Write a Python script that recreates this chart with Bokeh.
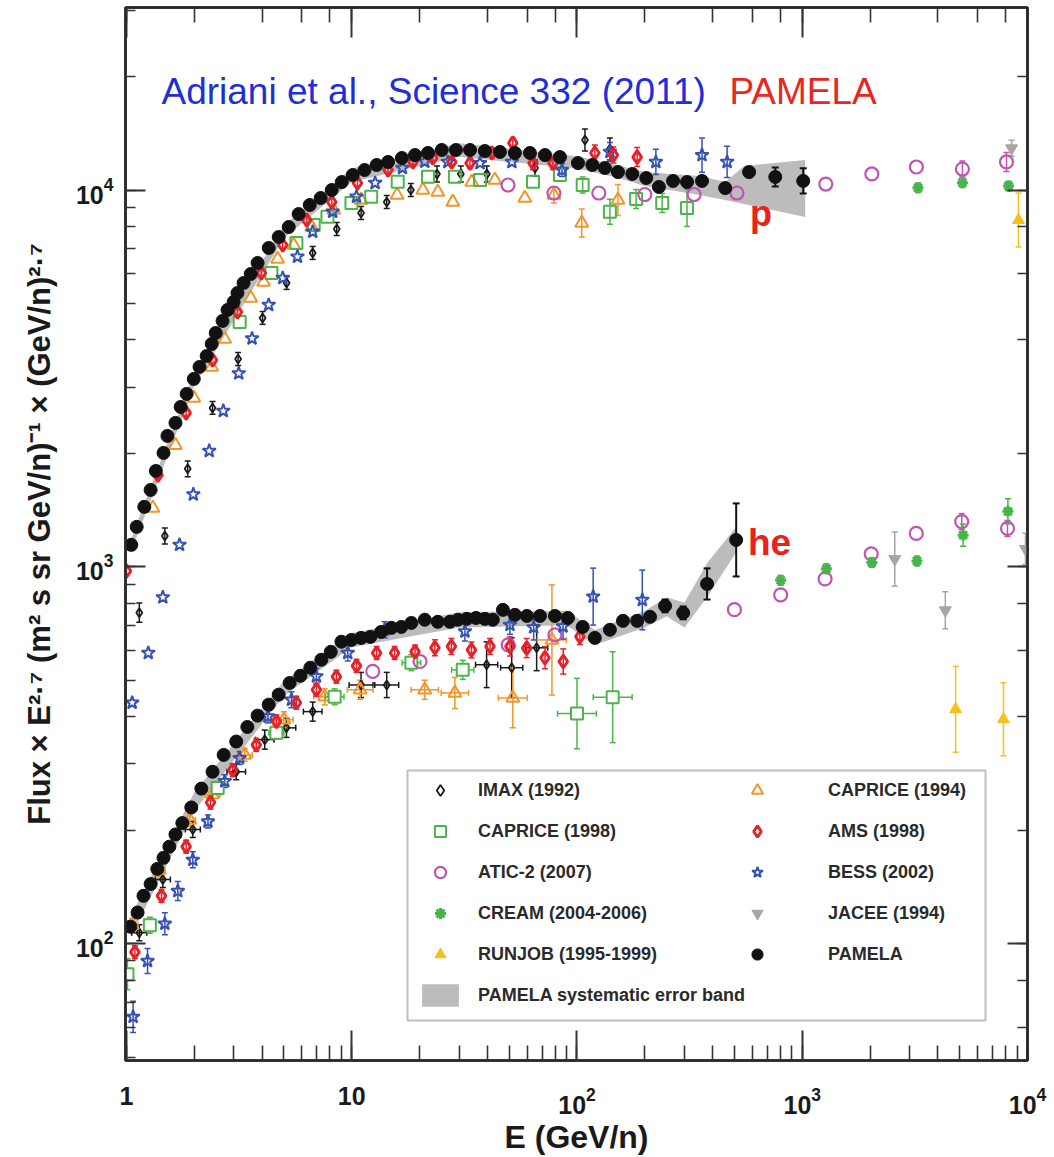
import math
from bokeh.plotting import figure
from bokeh.models import (ColumnDataSource, Whisker, TeeHead, Legend, LegendItem,
                          Label, BoxAnnotation, LogAxis)
from bokeh.embed import file_html
from bokeh.resources import INLINE

FONT = "Liberation Sans"

# ---------------- PROTONS ----------------
pam_p_E = [1.05, 1.11, 1.20, 1.28, 1.35, 1.46, 1.52, 1.65, 1.74, 1.85,
           1.99, 2.11, 2.27, 2.39, 2.49, 2.67, 2.81, 2.99, 3.11, 3.31,
           3.56, 3.82, 4.28, 4.74, 5.25, 5.81, 6.51, 7.28, 8.15, 9.03,
           10.1, 11.4, 12.9, 14.5, 16.7, 19.1, 21.8, 25.1, 29.0, 33.5,
           39.0, 45.5, 53.0, 61.8, 72.1, 84.0, 101, 117, 133, 152,
           176, 203, 231, 267, 308, 359, 455, 581, 759, 1010]
pam_p_F = [1144, 1277, 1443, 1600, 1797, 2006, 2226, 2410, 2657, 2877,
           3153, 3393, 3628, 3904, 4176, 4494, 4805, 5046, 5330, 5666,
           5987, 6403, 7018, 7504, 7978, 8635, 9125, 9524, 10000, 10500,
           10960, 11300, 11650, 11870, 12160, 12380, 12540, 12770, 12770, 12770,
           12690, 12620, 12540, 12540, 12380, 12230, 11790, 11650, 11440, 11160,
           11030, 10760, 10190, 10570, 10500, 10570, 10120, 11160, 10830, 10570]
pam_p_err = [0] * 52 + [0.015, 0.015, 0.02, 0.02, 0.025, 0.03, 0.06, 0.08]

band_p_E = [1.05, 2.0, 5.0, 10.0, 30.0, 100, 150, 200, 350, 455, 552, 1030]
band_p_lo = [1100, 3030, 7450, 10500, 12250, 11400, 10800, 10250, 9700, 9410, 9180, 8480]
band_p_hi = [1190, 3290, 8050, 11400, 13300, 12300, 11650, 11160, 10890, 10500, 11580, 12010]

imax_p_E = [1.14, 1.48, 1.87, 2.41, 3.13, 4.02, 5.14, 6.71, 8.58, 11.0, 14.3, 18.3,
            23.9, 30.5, 39.8, 65.1, 108.5, 140]
imax_p_F = [756, 1208, 1820, 2641, 3562, 4577, 5666, 6806, 7881, 8690, 9293, 10000,
            11030, 11030, 11030, 11440, 13570, 12850]
imax_p_err = [0.06, 0.05, 0.05, 0.04, 0.04, 0.04, 0.04, 0.04, 0.04, 0.04, 0.04, 0.04,
              0.05, 0.05, 0.05, 0.05, 0.07, 0.07]

cap94_p_E = [1.31, 1.65, 1.99, 2.39, 2.73, 3.56, 4.06, 4.69, 5.52, 6.64, 8.32, 11.0,
             15.9, 20.7, 24.1, 28.1, 34.1, 43.2, 58.7, 79.0, 105, 152]
cap94_p_F = [1434, 2101, 2807, 3393, 4025, 5169, 5702, 6561, 7147, 7978, 8851, 9408,
             9699, 10000, 9878, 9293, 10500, 10630, 9524, 9699, 8175, 9408]
cap94_p_err = [0, 0, 0, 0, 0, 0, 0, 0, 0, 0, 0, 0,
               0, 0, 0, 0, 0, 0, 0, 0.05, 0.09, 0.10]

cap98_p_E = [3.18, 4.40, 5.68, 6.78, 7.80, 9.97, 12.2, 16.0, 21.8, 28.7, 37.1, 63.8,
             84.0, 106, 140, 183, 239, 308]
cap98_p_F = [4466, 6023, 7235, 8076, 8495, 9237, 9600, 10520, 10850, 10850, 10630, 10520,
             10960, 10310, 8757, 9464, 9237, 8960]
cap98_p_err = [0, 0, 0, 0, 0, 0, 0, 0, 0, 0, 0, 0,
               0, 0.05, 0.08, 0.06, 0.06, 0.12]

atic_p_E = [49.4, 79.0, 125, 200, 331, 513, 1272, 2037, 3212, 5141, 8068]
atic_p_F = [10310, 9818, 9818, 9729, 9729, 9818, 10370, 11030, 11510, 11370, 11870]
atic_p_err = [0, 0, 0, 0, 0, 0, 0, 0, 0, 0.05, 0.06]

ams_p_E = [1.0, 1.38, 1.84, 2.41, 3.11, 3.97, 4.94, 6.31, 8.15, 10.6, 14.5, 18.7, 22.9,
           27.8, 33.5, 41.9, 51.9, 63.8, 78.2, 120, 145, 185]
ams_p_F = [975, 1750, 2562, 3540, 4746, 6023, 7147, 8326, 9293, 10440, 11300, 11870, 12160,
           11870, 11790, 12540, 13330, 11790, 11790, 12540, 12380, 12230]
ams_p_err = [0.02, 0.02, 0.02, 0.02, 0.02, 0.02, 0.02, 0.02, 0.02, 0.02, 0.02, 0.02, 0.02,
             0.02, 0.03, 0.03, 0.03, 0.04, 0.04, 0.05, 0.05, 0.06]

bess_p_E = [1.06, 1.25, 1.45, 1.72, 1.98, 2.33, 2.69, 3.15, 3.61, 4.28, 4.94, 5.74, 6.71,
            8.23, 10.5, 12.7, 16.8, 21.1, 26.7, 37.1, 51.4, 85.8, 140, 224, 359, 464]
bess_p_F = [436, 591, 830, 1144, 1557, 2031, 2593, 3262, 4037, 4955, 5843, 6654, 7752,
            8757, 9600, 10440, 11440, 11890, 11870, 11790, 11870, 11300, 12620, 11870, 12380, 11870]
bess_p_err = [0, 0, 0, 0, 0, 0, 0, 0, 0, 0, 0, 0, 0,
              0, 0, 0, 0, 0, 0, 0, 0, 0.04, 0.06, 0.08, 0.11, 0.10]

cream_p_E = [3265, 5141, 8234]
cream_p_F = [10140, 10460, 10250]
cream_p_err = [0.03, 0.03, 0.03]

jacee_p_E = [8500]
jacee_p_F = [12900]
jacee_p_err = [0.05]

runjob_p_E = [9120]
runjob_p_F = [8326]
runjob_p_err = [0.18]

# ---------------- HELIUM ----------------
pam_he_E = [1.04, 1.12, 1.19, 1.28, 1.37, 1.46, 1.55, 1.65, 1.77, 1.94,
            2.15, 2.41, 2.70, 3.07, 3.44, 3.82, 4.28, 4.74, 5.30, 5.92,
            6.55, 7.33, 8.07, 9.00, 9.97, 11.0, 12.1, 13.5, 15.0, 16.6,
            18.4, 21.1, 24.1, 27.3, 29.6, 32.4, 35.6, 39.0, 42.3, 46.9,
            53.0, 59.9, 68.5, 79.8, 91.2, 106, 120, 140, 160, 185,
            211, 246, 296, 378, 509]
pam_he_F = [111, 121, 134, 144, 158, 169, 181, 195, 209, 230,
            258, 286, 317, 344, 376, 403, 431, 458, 492, 514,
            540, 567, 595, 633, 640, 648, 652, 672, 689, 693,
            710, 724, 715, 715, 724, 728, 732, 728, 724, 769,
            746, 741, 741, 741, 732, 693, 648, 681, 719, 719,
            737, 788, 755, 901, 1179]
pam_he_err = [0] * 45 + [0.015, 0.015, 0.015, 0.015, 0.02, 0.03, 0.04, 0.04, 0.10, 0.25]

band_he_E = [1.04, 2.0, 5.0, 10.0, 30.0, 90.0, 120, 200, 250, 300, 380, 510]
band_he_lo = [104, 225, 455, 612, 690, 700, 620, 690, 740, 690, 834, 1096]
band_he_hi = [118, 252, 498, 668, 758, 765, 680, 765, 830, 805, 1027, 1277]

imax_he_E = [1.14, 1.45, 1.97, 3.07, 4.11, 5.13, 6.71, 11.0, 14.3, 39.7, 51.3, 66.2]
imax_he_F = [107, 148, 201, 286, 348, 374, 413, 486, 486, 550, 540, 610]
imax_he_err = [0.05, 0.05, 0.05, 0.05, 0.06, 0.06, 0.06, 0.08, 0.08, 0.15, 0.2, 0.15]
imax_he_xf = [1.08, 1.08, 1.08, 1.10, 1.10, 1.10, 1.10, 1.13, 1.13, 1.12, 1.12, 1.12]

cap94_he_E = [1.06, 1.40, 1.91, 2.41, 3.35, 5.0, 7.59, 10.9, 21.1, 28.7, 51.9, 77.4]
cap94_he_F = [112, 157, 213, 249, 317, 393, 452, 472, 472, 463, 449, 640]
cap94_he_err = [0.04, 0.04, 0.04, 0.04, 0.04, 0.05, 0.05, 0.06, 0.06, 0.10, 0.20, 0.40]
cap94_he_xf = [1.06, 1.06, 1.06, 1.08, 1.08, 1.10, 1.12, 1.14, 1.15, 1.15, 1.16, 1.16]

cap98_he_E = [1.01, 1.27, 2.54, 4.63, 8.40, 18.4, 31.1, 100, 144]
cap98_he_F = [83, 112, 259, 363, 452, 557, 533, 408, 451]
cap98_he_err = [0.10, 0.05, 0.04, 0.04, 0.05, 0.05, 0.06, 0.24, 0.32]
cap98_he_xf = [1.05, 1.05, 1.06, 1.08, 1.10, 1.10, 1.12, 1.22, 1.22]

ams_he_E = [1.09, 1.43, 1.84, 2.36, 2.96, 3.77, 4.63, 5.68, 6.97, 8.55, 10.5, 12.9,
            15.5, 19.1, 23.4, 27.7, 34.0, 41.1, 50.4, 59.8, 72.1, 86.9, 103]
ams_he_F = [95, 134, 181, 237, 289, 337, 389, 436, 472, 511, 546, 591,
            591, 596, 610, 615, 602, 615, 615, 609, 574, 561, 653]
ams_he_err = [0.04, 0.04, 0.04, 0.04, 0.04, 0.04, 0.04, 0.04, 0.04, 0.04, 0.04, 0.04,
              0.04, 0.04, 0.05, 0.05, 0.05, 0.05, 0.06, 0.06, 0.07, 0.08, 0.05]

atic_he_E = [12.4, 20.1, 49.5, 79.8, 500, 802, 1263, 2024, 3208, 5105, 8150]
atic_he_F = [528, 561, 621, 660, 770, 843, 929, 1083, 1227, 1319, 1265]
atic_he_err = [0, 0, 0, 0, 0, 0, 0, 0, 0, 0.05, 0.05]

bess_he_E = [1.07, 1.24, 1.48, 1.69, 1.97, 2.30, 2.73, 3.18, 4.25, 5.40, 6.97, 9.60,
             14.0, 31.8, 50.4, 64.2, 86.7, 118, 195]
bess_he_F = [64, 90, 113, 138, 167, 211, 270, 311, 401, 444, 512, 591,
             681, 674, 702, 691, 695, 834, 817]
bess_he_err = [0.10, 0.08, 0.07, 0.06, 0.05, 0.04, 0.04, 0.04, 0.04, 0.05, 0.05, 0.05,
               0.05, 0.06, 0.06, 0.08, 0.08, 0.19, 0.20]

cream_he_E = [802, 1280, 2037, 3231, 5177, 8184]
cream_he_F = [921, 989, 1027, 1037, 1214, 1404]
cream_he_err = [0.03, 0.03, 0.03, 0.03, 0.07, 0.08]

jacee_he_E = [2575, 4316, 9797]
jacee_he_F = [1049, 767, 1116]
jacee_he_err = [0.18, 0.12, 0.10]

runjob_he_E = [4797, 7823]
runjob_he_F = [419, 394]
runjob_he_err = [0.30, 0.25]

# ---------------- colours ----------------
C_IMAX = "#1a1a1a"
C_CAP94 = "#f0962a"
C_CAP98 = "#4cb54a"
C_AMS = "#e5222a"
C_ATIC = "#c253b4"
C_BESS = "#3552b3"
C_CREAM = "#45b548"
C_JACEE = "#aaa69f"
C_RUNJOB = "#f5c218"
C_PAM = "#111111"
C_BAND = "#bcbcbc"

# ---------------- figure ----------------
p = figure(x_axis_type="log", y_axis_type="log", x_range=(0.99, 1e4), y_range=(49, 30500),
           frame_width=902, frame_height=1053, min_border_left=125, min_border_right=23,
           min_border_top=7, min_border_bottom=95, output_backend="svg",
           toolbar_location=None, background_fill_color="white", border_fill_color="white")
p.xgrid.visible = False
p.ygrid.visible = False
p.outline_line_color = "#2a2a2a"
p.outline_line_width = 2.5


def style_axis(ax, major_in, minor_in):
    ax.major_tick_in = major_in
    ax.major_tick_out = 0
    ax.minor_tick_in = minor_in
    ax.minor_tick_out = 0
    ax.axis_line_color = "#2a2a2a"
    ax.axis_line_width = 2.5
    ax.major_tick_line_color = "#333333"
    ax.major_tick_line_width = 2
    ax.minor_tick_line_color = "#333333"
    ax.minor_tick_line_width = 1.6
    ax.major_label_text_font = FONT
    ax.major_label_text_font_style = "bold"
    ax.major_label_text_font_size = "25px"
    ax.major_label_text_color = "#1a1a1a"


xa = p.xaxis[0]
style_axis(xa, 30, 15)
xa.major_label_overrides = {1: "1", 10: "10"}
xa.major_label_standoff = 26
xa.axis_label = "E (GeV/n)"
xa.axis_label_text_font = FONT
xa.axis_label_text_font_style = "bold"
xa.axis_label_text_font_size = "32px"
xa.axis_label_text_color = "#1a1a1a"
xa.axis_label_standoff = 2

ya = p.yaxis[0]
style_axis(ya, 20, 10)
ya.major_label_standoff = 12
ya.axis_label = "Flux × E²·⁷ (m² s sr GeV/n)⁻¹ × (GeV/n)²·⁷"
ya.axis_label_text_font = FONT
ya.axis_label_text_font_style = "bold"
ya.axis_label_text_font_size = "31px"
ya.axis_label_text_color = "#1a1a1a"
ya.axis_label_standoff = 16

top = LogAxis()
style_axis(top, 30, 15)
top.major_label_overrides = {1: "", 10: "", 100: "", 1000: "", 10000: ""}
top.major_label_text_font_size = "1px"
top.major_label_standoff = 0
p.add_layout(top, "above")

right = LogAxis()
style_axis(right, 20, 10)
right.major_label_overrides = {100: "", 1000: "", 10000: ""}
right.major_label_text_font_size = "1px"
right.major_label_standoff = 0
p.add_layout(right, "right")

# ---------------- bands ----------------
r_band = p.varea(x=band_p_E, y1=band_p_lo, y2=band_p_hi, fill_color=C_BAND, fill_alpha=1,
                 level="underlay")
p.varea(x=band_he_E, y1=band_he_lo, y2=band_he_hi, fill_color=C_BAND, fill_alpha=1,
        level="underlay")


def series(E, F, err, color, marker, size, lw, fill=None, xf=None, cap=6, wlw=1.5):
    idx = [i for i, e in enumerate(err) if e > 0]
    if idx:
        wsrc = ColumnDataSource(dict(
            x=[E[i] for i in idx],
            lo=[F[i] / (1 + err[i]) for i in idx],
            hi=[F[i] * (1 + err[i]) for i in idx]))
        p.add_layout(Whisker(source=wsrc, base="x", lower="lo", upper="hi", dimension="height",
                             line_color=color, line_width=wlw,
                             upper_head=TeeHead(size=cap, line_color=color, line_width=wlw),
                             lower_head=TeeHead(size=cap, line_color=color, line_width=wlw)))
    if xf:
        hsrc = ColumnDataSource(dict(
            y=F, lo=[e / k for e, k in zip(E, xf)], hi=[e * k for e, k in zip(E, xf)]))
        p.add_layout(Whisker(source=hsrc, base="y", lower="lo", upper="hi", dimension="width",
                             line_color=color, line_width=wlw,
                             upper_head=TeeHead(size=cap, line_color=color, line_width=wlw),
                             lower_head=TeeHead(size=cap, line_color=color, line_width=wlw)))
    src = ColumnDataSource(dict(x=E, y=F))
    return p.scatter("x", "y", source=src, marker=marker, size=size, line_color=color,
                     line_width=lw, fill_color=fill)


r_imax = series(imax_p_E, imax_p_F, imax_p_err, C_IMAX, "diamond", 9, 1.8)
series(imax_he_E, imax_he_F, imax_he_err, C_IMAX, "diamond", 9, 1.8, xf=imax_he_xf)
r_cap94 = series(cap94_p_E, cap94_p_F, cap94_p_err, C_CAP94, "triangle", 13, 2)
series(cap94_he_E, cap94_he_F, cap94_he_err, C_CAP94, "triangle", 13, 2, xf=cap94_he_xf)
r_cap98 = series(cap98_p_E, cap98_p_F, cap98_p_err, C_CAP98, "square", 12, 2)
series(cap98_he_E, cap98_he_F, cap98_he_err, C_CAP98, "square", 12, 2, fill="white",
       xf=cap98_he_xf)
r_atic = series(atic_p_E, atic_p_F, atic_p_err, C_ATIC, "circle", 13, 2.2)
series(atic_he_E, atic_he_F, atic_he_err, C_ATIC, "circle", 13, 2.2)
r_cream = series(cream_p_E, cream_p_F, cream_p_err, C_CREAM, "asterisk", 11, 3)
series(cream_he_E, cream_he_F, cream_he_err, C_CREAM, "asterisk", 11, 3)
r_jacee = series(jacee_p_E, jacee_p_F, jacee_p_err, C_JACEE, "inverted_triangle", 12, 1,
                 fill=C_JACEE)
series(jacee_he_E, jacee_he_F, jacee_he_err, C_JACEE, "inverted_triangle", 12, 1, fill=C_JACEE)
r_runjob = series(runjob_p_E, runjob_p_F, runjob_p_err, C_RUNJOB, "triangle", 12, 1,
                  fill=C_RUNJOB)
series(runjob_he_E, runjob_he_F, runjob_he_err, C_RUNJOB, "triangle", 12, 1, fill=C_RUNJOB)
r_bess = series(bess_p_E, bess_p_F, bess_p_err, C_BESS, "star", 14, 2)
series(bess_he_E, bess_he_F, bess_he_err, C_BESS, "star", 14, 2)
r_ams = series(ams_p_E, ams_p_F, ams_p_err, C_AMS, "diamond", 13, 3)
series(ams_he_E, ams_he_F, ams_he_err, C_AMS, "diamond", 13, 3)
r_pam = series(pam_p_E, pam_p_F, pam_p_err, C_PAM, "circle", 13, 1, fill=C_PAM, cap=7, wlw=2)
series(pam_he_E, pam_he_F, pam_he_err, C_PAM, "circle", 13, 1, fill=C_PAM, cap=7, wlw=2)

# ---------------- texts ----------------
p.add_layout(Label(x=1.43, y=18300, text="Adriani et al., Science 332 (2011)",
                   text_font=FONT, text_font_size="37px", text_color="#1f2fd8",
                   text_align="left", text_baseline="alphabetic"))
p.add_layout(Label(x=475, y=18300, text="PAMELA", text_font=FONT, text_font_size="37px",
                   text_color="#e8281f", text_align="left", text_baseline="alphabetic"))
p.add_layout(Label(x=586, y=8660, text="p", text_font=FONT, text_font_size="36px",
                   text_font_style="bold", text_color="#e8231c", text_baseline="alphabetic"))
p.add_layout(Label(x=574, y=1160, text="he", text_font=FONT, text_font_size="37px",
                   text_font_style="bold", text_color="#e8231c", text_baseline="alphabetic"))

# ---------------- legend ----------------
p.add_layout(BoxAnnotation(left=282, right=860, bottom=40, top=290, left_units="screen",
                           right_units="screen", top_units="screen", bottom_units="screen",
                           fill_color="white", fill_alpha=1, line_color="#2a2a2a",
                           line_width=2))

leg_kw = dict(orientation="vertical", glyph_width=46, glyph_height=28, label_height=28,
              spacing=13, padding=0, margin=0, label_text_font=FONT,
              label_text_font_style="bold", label_text_font_size="18px",
              label_text_color="#2a2a2a", border_line_color=None, background_fill_alpha=0)
leg_left = Legend(items=[
    LegendItem(label="IMAX (1992)", renderers=[r_imax]),
    LegendItem(label="CAPRICE (1998)", renderers=[r_cap98]),
    LegendItem(label="ATIC-2 (2007)", renderers=[r_atic]),
    LegendItem(label="CREAM (2004-2006)", renderers=[r_cream]),
    LegendItem(label="RUNJOB (1995-1999)", renderers=[r_runjob]),
    LegendItem(label="PAMELA systematic error band", renderers=[r_band]),
], location=(292, 51), label_standoff=15, **leg_kw)
leg_right = Legend(items=[
    LegendItem(label="CAPRICE (1994)", renderers=[r_cap94]),
    LegendItem(label="AMS (1998)", renderers=[r_ams]),
    LegendItem(label="BESS (2002)", renderers=[r_bess]),
    LegendItem(label="JACEE (1994)", renderers=[r_jacee]),
    LegendItem(label="PAMELA", renderers=[r_pam]),
], location=(609, 92), label_standoff=48, **leg_kw)
p.add_layout(leg_left)
p.add_layout(leg_right)

open("out.html", "w").write(file_html(p, INLINE))
